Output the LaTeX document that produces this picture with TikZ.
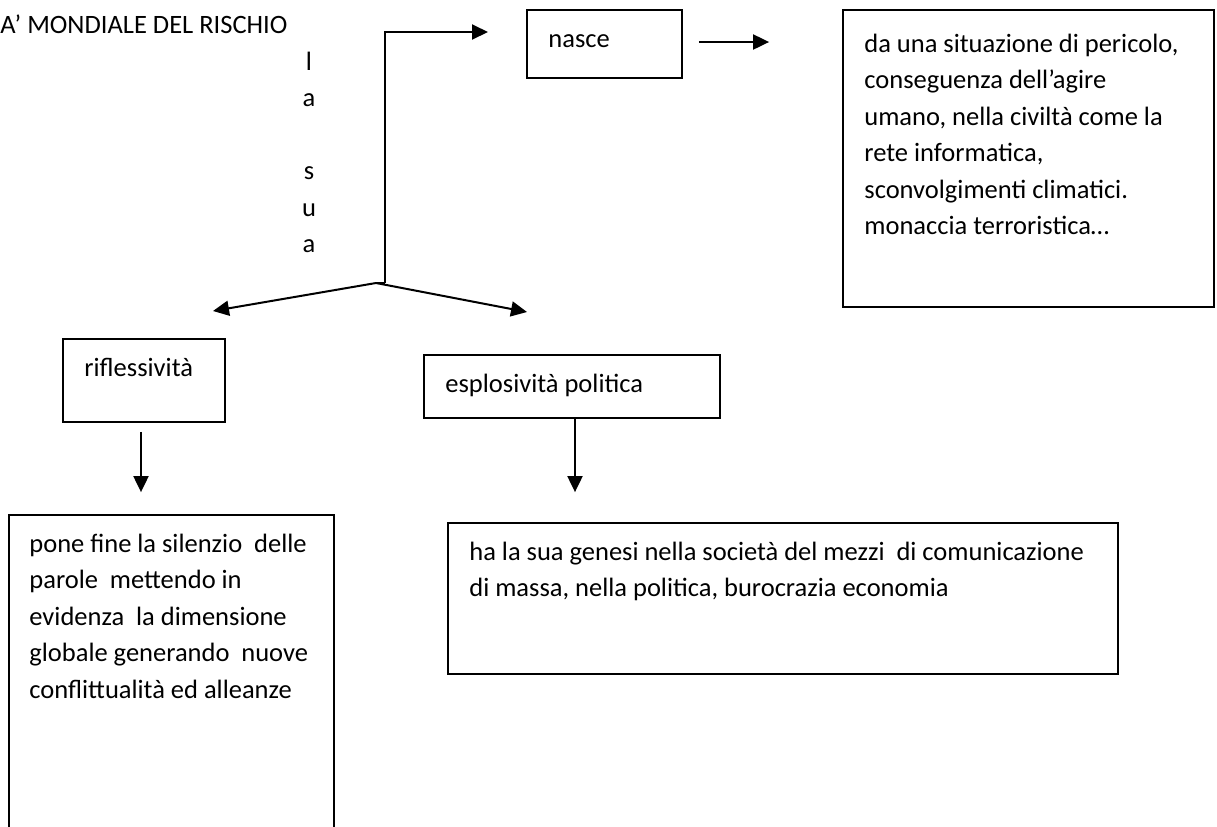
\documentclass[tikz,border=0pt]{standalone}
\usepackage{fontspec}
\setmainfont{Carlito}
\usepackage{tikz}
\usetikzlibrary{positioning, calc, arrows.meta}

\begin{document}
\begin{tikzpicture}[x=0.5pt, y=-0.5pt,
    box/.style={draw, line width=0.9pt, inner sep=0pt},
    txt/.style={inner sep=0pt, anchor=base west, align=left, text width=#1,
      execute at begin node={\spaceskip=2.98pt plus 0.6pt minus 0.3pt\relax}},
    txt/.default=200pt,
    arr/.style={line width=1pt, -{Triangle[length=8pt, width=7.5pt]}},
    font=\fontsize{13.25}{18.25}\selectfont]
  \clip (0,0) rectangle (1217,826);
  \node[box, minimum width=77.5pt, minimum height=34pt] (nasce) at (604.5,44) {};
  \node[box, minimum width=185.5pt, minimum height=148.5pt] (danger) at (1028.5,158.5) {};
  \node[box, minimum width=81pt, minimum height=41.5pt] (rifl) at (144,380.5) {};
  \node[box, minimum width=148pt, minimum height=31.5pt] (esplo) at (572,386.5) {};
  \node[box, minimum width=162.5pt, minimum height=170pt] (fine) at (171.5,685) {};
  \node[box, minimum width=335pt, minimum height=75.5pt] (genesi) at (783,598.5) {};

  \node[txt] (title) at (0,33) {A’ MONDIALE DEL RISCHIO};
  \node[txt=20pt, align=center, anchor=base] (lasua) at (309,70) {l\\a\\[18.25pt]s\\u\\a};
  \node[txt] (nasceTxt) at (548,47) {nasce};
  \node[txt] (dangerTxt) at (864,52) {da una situazione di pericolo,\\conseguenza dell’agire\\umano, nella civiltà come la\\rete informatica,\\sconvolgimenti climatici.\\monaccia terroristica…};
  \node[txt] (riflTxt) at (84,376) {riflessività};
  \node[txt] (esploTxt) at (445,392) {esplosività politica};
  \node[txt] (fineTxt) at (29,552) {pone fine la silenzio~ delle\\parole~ mettendo in\\evidenza~ la dimensione\\globale generando~ nuove\\conflittualità ed alleanze};
  \node[txt=380pt] (genesiTxt) at (469,560) {ha la sua genesi nella società del mezzi~ di comunicazione\\di massa, nella politica, burocrazia economia};

  \coordinate (fork) at (376,283);
  \coordinate (riflTip) at (213,311);
  \coordinate (esploTip) at (527,312);
  \coordinate (up) at (385,32);
  \coordinate (upTip) at (488,32);
  \draw[line width=1pt] (fork) -- (fork -| up);
  \draw[arr] (fork -| up) -- (up) -- (upTip);
  \draw[arr] (fork) -- (riflTip);
  \draw[arr] (fork) -- (esploTip);
  \draw[arr] ($(nasce.east)+(16,-2)$) -- ($(nasce.east -| danger.west)+(-73,-2)$);
  \draw[arr] ($(rifl.south)+(-3,9)$) -- ($(rifl.south |- fine.north)+(-3,-22)$);
  \draw[arr] ($(esplo.south)+(3,0)$) -- ($(esplo.south |- genesi.north)+(3,-30)$);
\end{tikzpicture}
\end{document}
